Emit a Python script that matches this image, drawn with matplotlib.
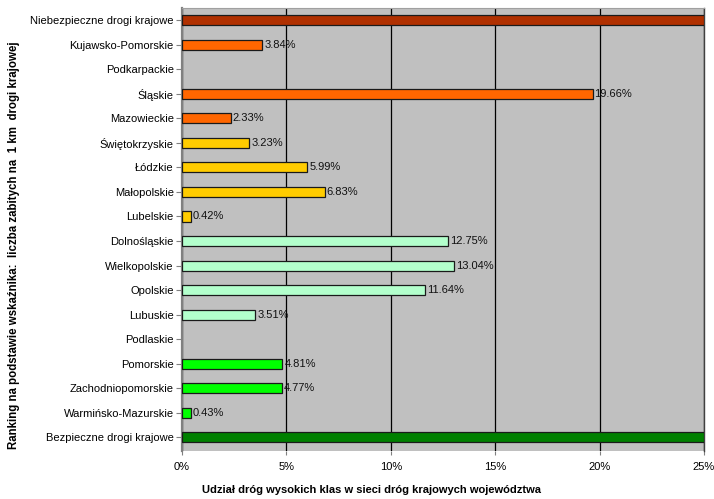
import matplotlib
matplotlib.use("Agg")
import matplotlib.pyplot as plt
from matplotlib.ticker import FuncFormatter

plt.rcParams['font.family'] = ['Liberation Sans', 'DejaVu Sans']

categories = [
    "Niebezpieczne drogi krajowe", "Kujawsko-Pomorskie", "Podkarpackie", "Śląskie",
    "Mazowieckie", "Świętokrzyskie", "Łódzkie", "Małopolskie", "Lubelskie",
    "Dolnośląskie", "Wielkopolskie", "Opolskie", "Lubuskie", "Podlaskie",
    "Pomorskie", "Zachodniopomorskie", "Warmińsko-Mazurskie", "Bezpieczne drogi krajowe",
]
values = [25.0, 3.84, None, 19.66, 2.33, 3.23, 5.99, 6.83, 0.42,
          12.75, 13.04, 11.64, 3.51, None, 4.81, 4.77, 0.43, 25.0]
show_label = [False, True, False, True, True, True, True, True, True,
              True, True, True, True, False, True, True, True, False]
colors = ["#B03000", "#FF6600", "#FF6600", "#FF6600", "#FF6600",
          "#FFCC00", "#FFCC00", "#FFCC00", "#FFCC00",
          "#B3FFCC", "#B3FFCC", "#B3FFCC", "#B3FFCC", "#B3FFCC",
          "#00FF00", "#00FF00", "#00FF00", "#008000"]
xticks = [0, 5, 10, 15, 20, 25]

fig = plt.figure(figsize=(7.14, 4.99), dpi=100)
ax = fig.add_axes([182/714, 1 - 450.5/499, (704 - 182)/714, (450.5 - 8)/499])
ax.set_facecolor("#C0C0C0")

n = len(categories)
ypos = list(range(n))
for i, (v, c, sl) in enumerate(zip(values, colors, show_label)):
    if v is None:
        continue
    ax.barh(i, v, height=0.41, color=c, edgecolor="#1a1a1a", linewidth=0.9, zorder=3)
    if sl:
        ax.text(v + 0.1, i, f"{v:.2f}%", va="center", ha="left", fontsize=8,
                color="#111111", zorder=4)

ax.set_xlim(0, 25)
ax.set_ylim(n - 0.46, -0.5)
ax.set_yticks(ypos)
ax.set_yticklabels(categories, fontsize=8)
ax.set_xticks(xticks)
ax.xaxis.set_major_formatter(FuncFormatter(lambda x, p: f"{int(x)}%"))
ax.tick_params(axis='x', labelsize=8, length=3, color="#808080", pad=5)
ax.tick_params(axis='y', length=4, color="#808080", pad=2)
ax.grid(axis='x', color="black", linewidth=0.9, zorder=1)
ax.set_axisbelow(True)

ax.spines['left'].set_color("#808080")
ax.spines['left'].set_linewidth(1.6)
ax.spines['right'].set_color("#404040")
ax.spines['right'].set_linewidth(1.0)
ax.spines['top'].set_color("#A0A0A0")
ax.spines['top'].set_linewidth(0.8)
ax.spines['bottom'].set_visible(False)

fig.text(371/714, 1 - 490/499, "Udział dróg wysokich klas w sieci dróg krajowych województwa",
         ha="center", va="center", fontsize=8, fontweight="bold")
fig.text(14/714, 1 - 245/499,
         "Ranking na podstawie wskaźnika:  liczba zabitych na  1 km  drogi krajowej",
         ha="center", va="center", rotation=90, fontsize=8.3, fontweight="bold")

fig.savefig("out.png", dpi=100)
